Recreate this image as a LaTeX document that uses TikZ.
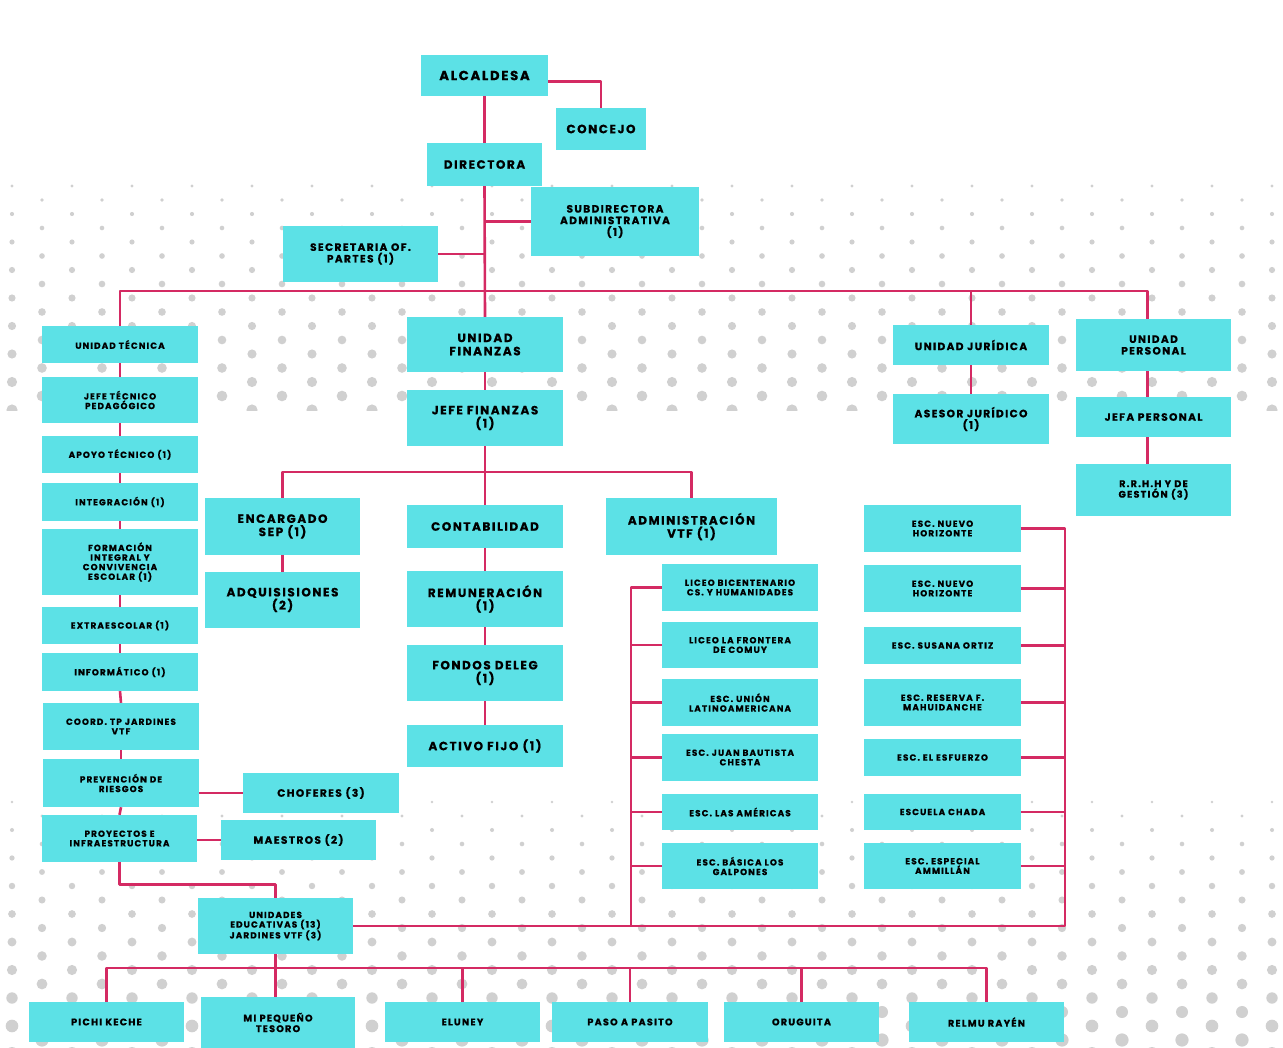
\documentclass[tikz,border=0pt]{standalone}
\usepackage{fontspec}
\newfontfamily\orgfont{Poppins}[LetterSpace=13, BoldFeatures={FakeBold=0.8}]
\definecolor{boxcyan}{HTML}{5CE1E6}
\definecolor{linkred}{HTML}{D42A63}
\definecolor{dotgray}{HTML}{D0D0D0}
\begin{document}
\begin{tikzpicture}[x=1pt, y=-1pt, line join=round,
  box/.style={fill=boxcyan, inner sep=0pt, align=center, text=black, font=\orgfont\bfseries\fontsize{8.8}{9.6}\selectfont},
  sz/.style 2 args={minimum width=#1pt, minimum height=#2pt},
  top/.style={font=\orgfont\bfseries\fontsize{13.2}{14.5}\selectfont},
  big/.style={font=\orgfont\bfseries\fontsize{12}{13.2}\selectfont},
  mid/.style={font=\orgfont\bfseries\fontsize{10.6}{11.6}\selectfont},
  low/.style={font=\orgfont\bfseries\fontsize{9.6}{10.6}\selectfont},
  link/.style={draw=linkred, line width=2.6pt}]
\useasboundingbox (0,0) rectangle (1283,1048);
% dotted background bands
\begin{scope}
  \clip (0,183) rectangle (1283,411);
  \foreach \i in {0,...,43} \foreach \j in {0,...,8} {
    \pgfmathsetmacro\yy{186+28*\j+14*mod(\i,2)}
    \pgfmathsetmacro\rr{1.6+4*(\yy-186)/225}
    \fill[dotgray] (12+30*\i,\yy) circle (\rr pt);
  }
\end{scope}
\begin{scope}
  \clip (0,800) rectangle (1283,1048);
  \foreach \i in {0,...,43} \foreach \j in {0,...,9} {
    \pgfmathsetmacro\yy{802+28*\j+14*mod(\i,2)}
    \pgfmathsetmacro\rr{1.4+5.4*(\yy-802)/246}
    \fill[dotgray] (12+30*\i,\yy) circle (\rr pt);
  }
\end{scope}
% top
\node[box, top, sz={127}{41}] (alc) at (484.5,75.5) {ALCALDESA};
\node[box, big, sz={90}{42}] (con) at (601,129) {CONCEJO};
\node[box, big, sz={115}{43}] (dir) at (484.5,164.5) {DIRECTORA};
\node[box, mid, sz={168}{69}] (sub) at (615,221.5) {SUBDIRECTORA\\ADMINISTRATIVA\\(1)};
\node[box, mid, sz={155}{56}] (sec) at (360.5,254) {SECRETARIA OF.\\PARTES (1)};
% units
\node[box, sz={156}{37}] (ut) at (120,344.5) {UNIDAD TÉCNICA};
\node[box, big, sz={156}{55}] (uf) at (485,344.5) {UNIDAD\\FINANZAS};
\node[box, mid, sz={156}{40}] (uj) at (971,345) {UNIDAD JURÍDICA};
\node[box, mid, sz={155}{52}] (up) at (1153.5,345) {UNIDAD\\PERSONAL};
% unidad tecnica column
\node[box, sz={156}{46}] (jtp) at (120,400) {JEFE TÉCNICO\\PEDAGÓGICO};
\node[box, sz={156}{37}] (apo) at (120,454.5) {APOYO TÉCNICO (1)};
\node[box, sz={156}{38}] (int) at (120,502) {INTEGRACIÓN (1)};
\node[box, sz={156}{66}] (form) at (120,562) {FORMACIÓN\\INTEGRAL Y\\CONVIVENCIA\\ESCOLAR (1)};
\node[box, sz={156}{37}] (ext) at (120,625.5) {EXTRAESCOLAR (1)};
\node[box, sz={156}{38}] (inf) at (120,672) {INFORMÁTICO (1)};
\node[box, sz={156}{47}] (coord) at (121,726.5) {COORD. TP JARDINES\\VTF};
\node[box, sz={156}{48}] (prev) at (121,783) {PREVENCIÓN DE\\RIESGOS};
\node[box, sz={155}{47}] (proy) at (119.5,838.5) {PROYECTOS E\\INFRAESTRUCTURA};
\node[box, mid, sz={156}{40}] (chof) at (321,793) {CHOFERES (3)};
\node[box, mid, sz={155}{40}] (maes) at (298.5,840) {MAESTROS (2)};
\node[box, sz={155}{56}] (ued) at (275.5,926) {UNIDADES\\EDUCATIVAS (13)\\JARDINES VTF (3)};
% finanzas
\node[box, big, sz={156}{56}] (jf) at (485,418) {JEFE FINANZAS\\(1)};
\node[box, big, sz={155}{57}] (sep) at (282.5,526.5) {ENCARGADO\\SEP (1)};
\node[box, big, sz={155}{56}] (adq) at (282.5,600) {ADQUISISIONES\\(2)};
\node[box, big, sz={156}{43}] (cont) at (485,526.5) {CONTABILIDAD};
\node[box, big, sz={156}{56}] (rem) at (485,599) {REMUNERACIÓN\\(1)};
\node[box, big, sz={156}{56}] (fon) at (485,673) {FONDOS DELEG\\(1)};
\node[box, big, sz={156}{42}] (act) at (485,746) {ACTIVO FIJO (1)};
\node[box, big, sz={171}{57}] (avtf) at (691.5,526.5) {ADMINISTRACIÓN\\VTF (1)};
% schools
\node[box, sz={156}{47}] (l1) at (740,587.5) {LICEO BICENTENARIO\\CS. Y HUMANIDADES};
\node[box, sz={156}{46}] (l2) at (740,645) {LICEO LA FRONTERA\\DE COMUY};
\node[box, sz={156}{47}] (l3) at (740,702.5) {ESC. UNIÓN\\LATINOAMERICANA};
\node[box, sz={156}{47}] (l4) at (740,757.5) {ESC. JUAN BAUTISTA\\CHESTA};
\node[box, sz={156}{36}] (l5) at (740,812) {ESC. LAS AMÉRICAS};
\node[box, sz={156}{46}] (l6) at (740,866) {ESC. BÁSICA LOS\\GALPONES};
\node[box, sz={157}{47}] (r1) at (942.5,528.5) {ESC. NUEVO\\HORIZONTE};
\node[box, sz={157}{47}] (r2) at (942.5,588.5) {ESC. NUEVO\\HORIZONTE};
\node[box, sz={157}{37}] (r3) at (942.5,645.5) {ESC. SUSANA ORTIZ};
\node[box, sz={157}{47}] (r4) at (942.5,702.5) {ESC. RESERVA F.\\MAHUIDANCHE};
\node[box, sz={157}{37}] (r5) at (942.5,757.5) {ESC. EL ESFUERZO};
\node[box, sz={157}{36}] (r6) at (942.5,812) {ESCUELA CHADA};
\node[box, sz={157}{46}] (r7) at (942.5,866) {ESC. ESPECIAL\\AMMILLÁN};
% juridica y personal
\node[box, mid, sz={156}{50}] (ajur) at (971,419) {ASESOR JURÍDICO\\(1)};
\node[box, mid, sz={155}{40}] (jp) at (1153.5,417) {JEFA PERSONAL};
\node[box, low, sz={155}{52}] (rrhh) at (1153.5,490) {R.R.H.H Y DE\\GESTIÓN (3)};
% jardines
\node[box, low, sz={155}{40}] (pk) at (106.5,1022) {PICHI KECHE};
\node[box, low, sz={154}{51}] (mpt) at (278,1022.5) {MI PEQUEÑO\\TESORO};
\node[box, low, sz={155}{40}] (elu) at (462.5,1022) {ELUNEY};
\node[box, low, sz={156}{40}] (pap) at (630,1022) {PASO A PASITO};
\node[box, low, sz={155}{40}] (oru) at (801.5,1022) {ORUGUITA};
\node[box, low, sz={155}{40}] (rel) at (986.5,1022) {RELMU RAYÉN};
% connectors
\coordinate (hub) at (486,291);
\coordinate (fin) at (485,472);
\coordinate (lbar) at (631,926);
\coordinate (rbar) at (1065,926);
\coordinate (kid) at (276,968);
\draw[link] ([yshift=-6pt]alc.east) -| (con.north);
\draw[link] (alc.south) -- (dir.north);
\draw[link] (dir.south) -- (uf.north);
\draw[link] (sub.west) -- (sub.west -| dir.south);
\draw[link] (sec.east) -- (sec.east -| dir.south);
\draw[link] (ut.north) |- (hub) -| ([xshift=-6pt]up.north);
\draw[link] (uj.north) -- (uj.north |- hub);
\foreach \a/\b in {ut/jtp, jtp/apo, apo/int, int/form, form/ext, ext/inf, inf/coord, coord/prev, prev/proy,
  uf/jf, jf/cont, cont/rem, rem/fon, fon/act, sep/adq, uj/ajur}
  \draw[link] (\a.south) -- (\b.north);
\draw[link] ([xshift=-6pt]up.south) -- ([xshift=-6pt]jp.north);
\draw[link] ([xshift=-6pt]jp.south) -- ([xshift=-6pt]rrhh.north);
\draw[link] (sep.north) |- (fin) -| (avtf.north);
\draw[link] (chof.west) -- (chof.west -| prev.east);
\draw[link] (maes.west) -- (maes.west -| proy.east);
\draw[link] (proy.south) -- ++(0,22) -| (ued.north);
\draw[link] (l1.west) -| (lbar);
\draw[link] (ued.east) -- (rbar) |- (r1.east);
\foreach \n in {2,...,6} \draw[link] (l\n.west) -- (l\n.west -| lbar);
\foreach \n in {2,...,7} \draw[link] (r\n.east) -- (r\n.east -| rbar);
\draw[link] (ued.south) -- (ued.south |- mpt.north);
\draw[link] (pk.north) |- (kid) -| (rel.north);
\foreach \k in {elu, pap, oru} \draw[link] (\k.north) -- (\k.north |- kid);
\end{tikzpicture}
\end{document}
